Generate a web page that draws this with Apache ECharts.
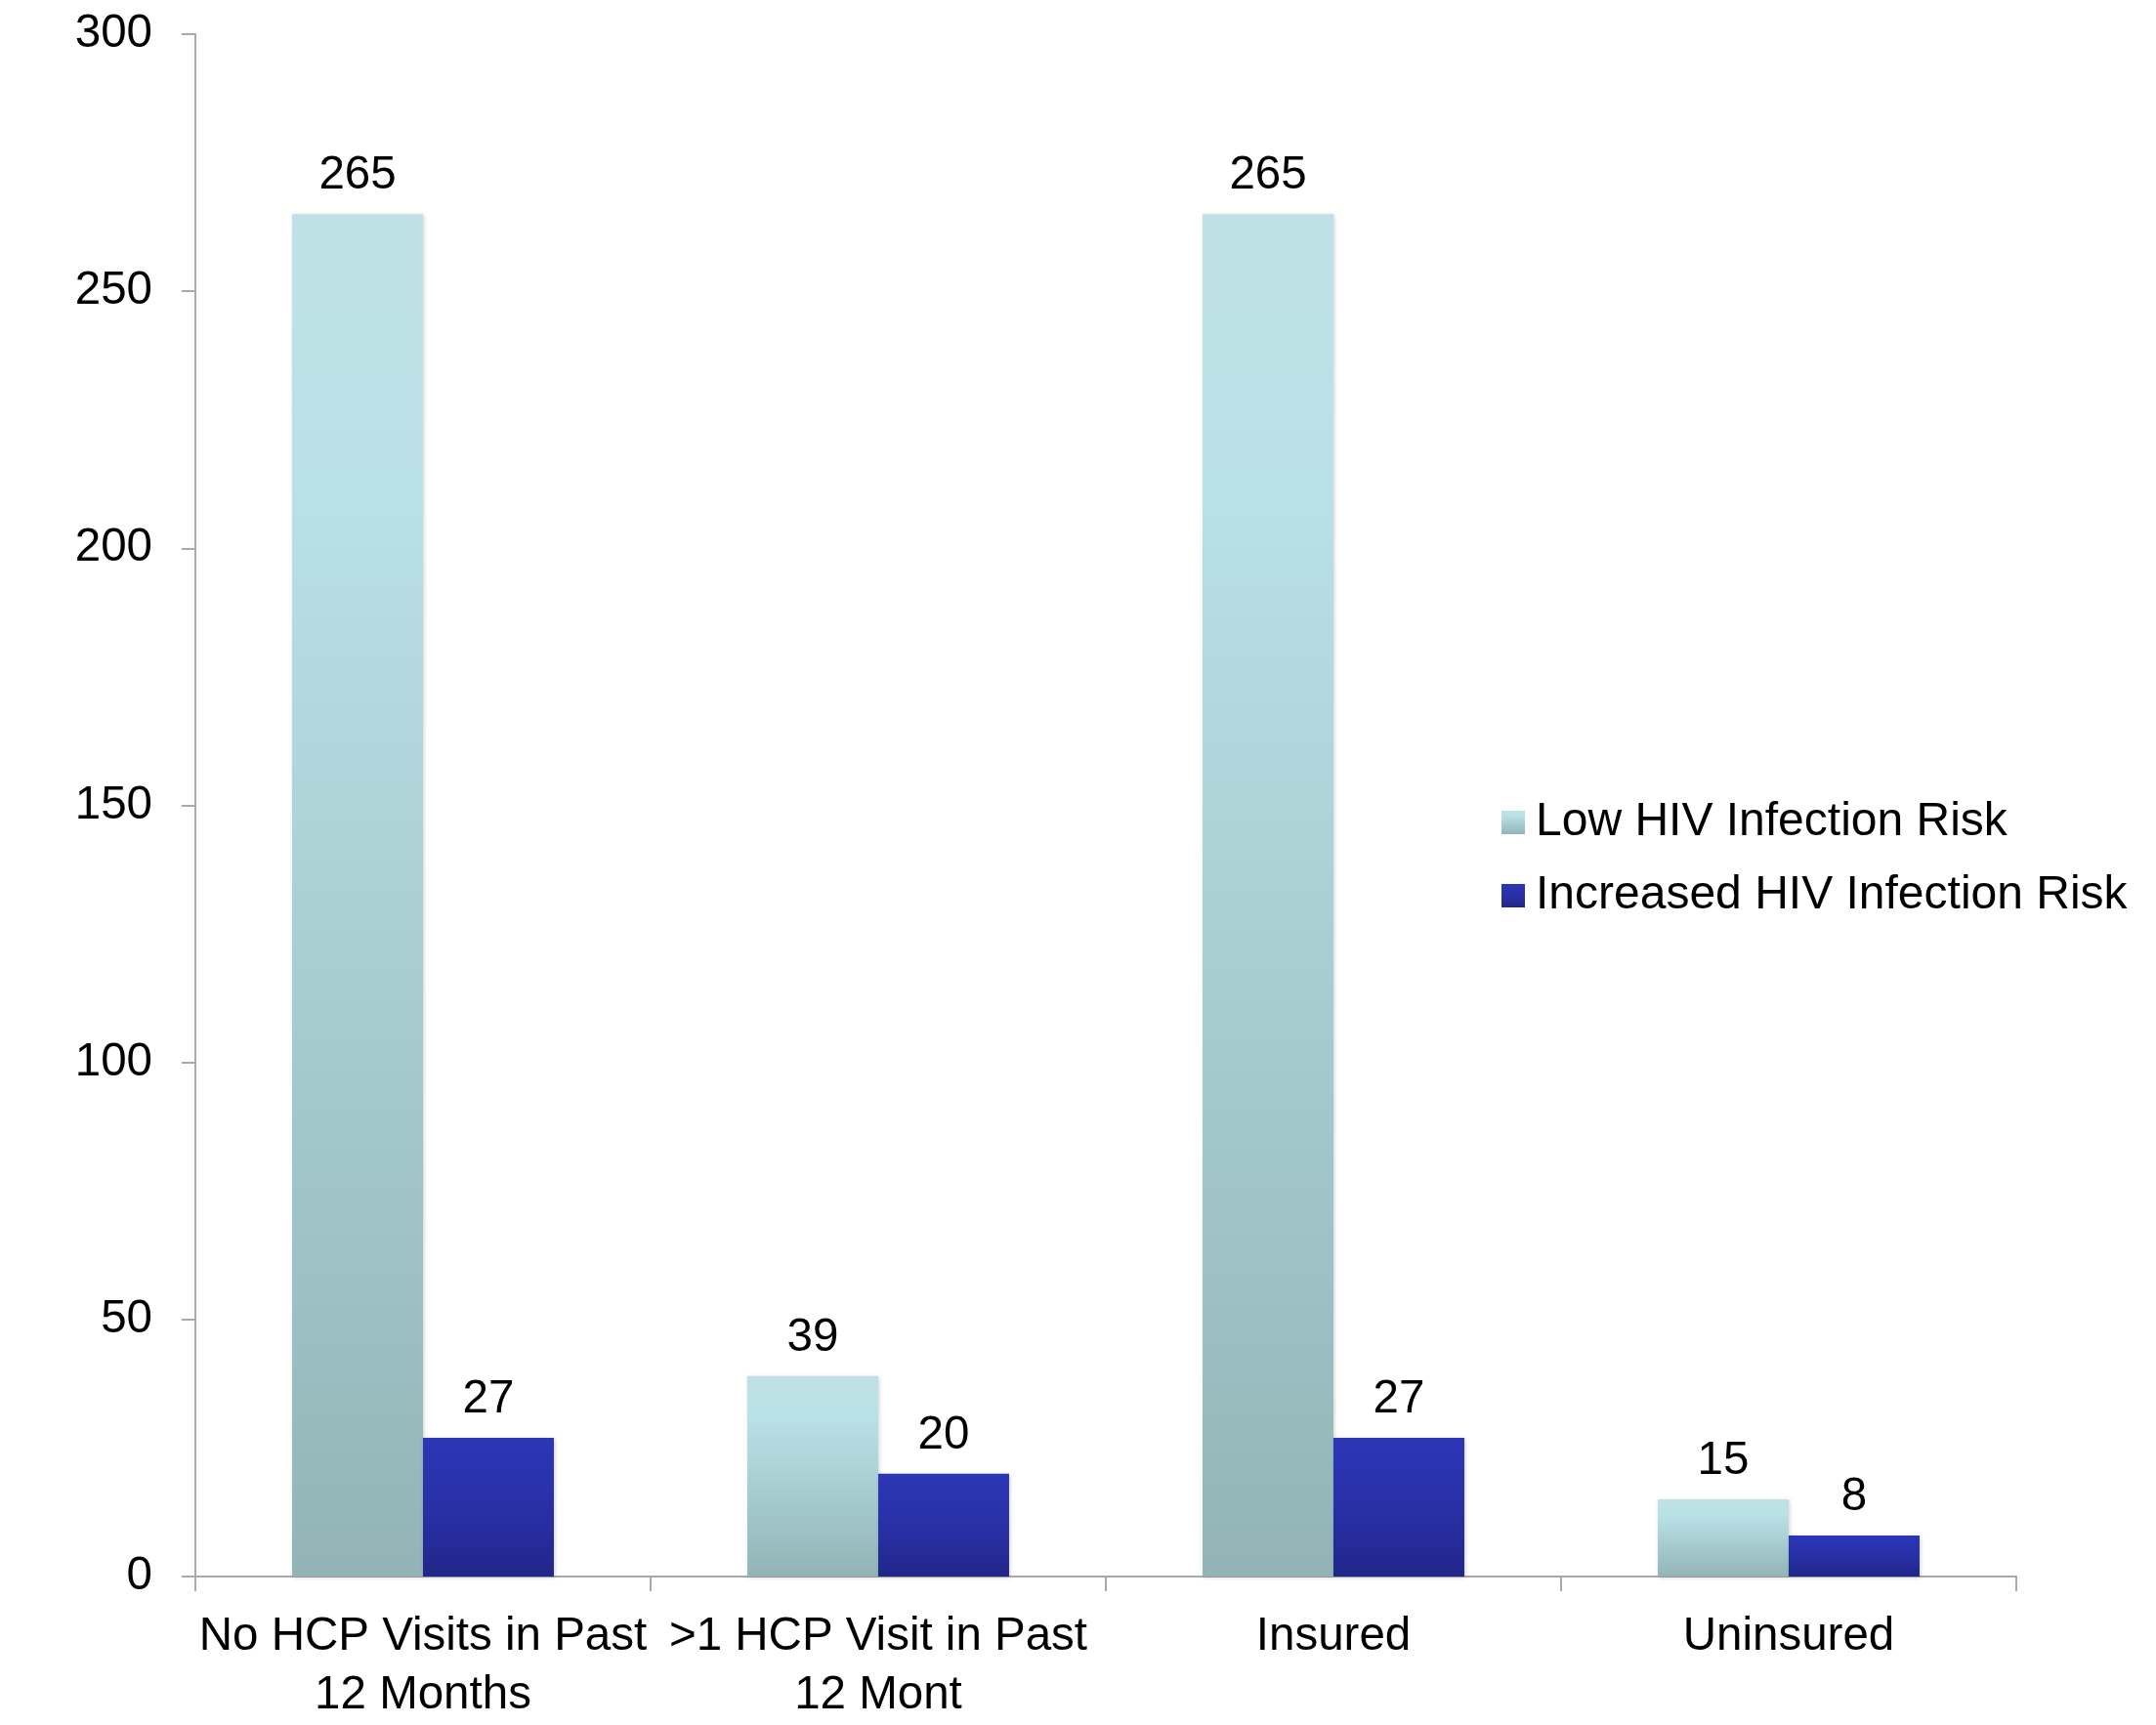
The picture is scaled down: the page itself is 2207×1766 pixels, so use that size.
<!DOCTYPE html>
<html>
<head>
<meta charset="utf-8">
<script src="https://cdn.jsdelivr.net/npm/echarts@6/dist/echarts.min.js"></script>
<style>
  html, body { margin: 0; padding: 0; background: #ffffff; }
  #chart { width: 2207px; height: 1766px; }
</style>
</head>
<body>
<div id="chart"></div>
<script>
// Groups along the x axis
const categories = [
  'No HCP Visits in Past\n12 Months',
  '>1 HCP Visit in Past\n12 Mont',
  'Insured',
  'Uninsured'
];
const seriesNames = ['Low HIV Infection Risk', 'Increased HIV Infection Risk'];
const lowRisk = [265, 39, 265, 15];
const increasedRisk = [27, 20, 27, 8];
const yTicks = { min: 0, max: 300, interval: 50 };

const FONT = '"Liberation Sans", Arial, Helvetica, sans-serif';
const AXIS_GREY = '#a9a9a9';

const lightFill = new echarts.graphic.LinearGradient(0, 0, 0, 1, [
  { offset: 0, color: '#bfe1e6' },
  { offset: 0.2, color: '#b9e2e6' },
  { offset: 1, color: '#92b4b7' }
]);
const darkFill = new echarts.graphic.LinearGradient(0, 0, 0, 1, [
  { offset: 0, color: '#2c36b7' },
  { offset: 0.5, color: '#2930a6' },
  { offset: 1, color: '#21268a' }
]);

const valueLabel = {
  show: true,
  position: 'top',
  distance: 15,
  color: '#000',
  fontFamily: FONT,
  fontSize: 47.5
};

const chart = echarts.init(document.getElementById('chart'), null, { renderer: 'canvas' });
chart.setOption({
  animation: false,
  backgroundColor: '#ffffff',
  grid: { left: 200, right: 143, top: 35, bottom: 138, containLabel: false },
  legend: {
    orient: 'vertical',
    left: 1537,
    top: 817,
    padding: 0,
    itemWidth: 24,
    itemHeight: 24,
    itemGap: 25,
    icon: 'rect',
    textStyle: { fontFamily: FONT, fontSize: 48, color: '#000', lineHeight: 50, padding: [0, 0, 0, 6] },
    data: seriesNames
  },
  xAxis: {
    type: 'category',
    data: categories,
    axisLine: { lineStyle: { color: AXIS_GREY, width: 2 } },
    axisTick: { show: true, length: 15, alignWithLabel: false, lineStyle: { color: AXIS_GREY, width: 2 } },
    axisLabel: {
      interval: 0,
      margin: 32,
      color: '#000',
      fontFamily: FONT,
      fontSize: 47.5,
      lineHeight: 60
    }
  },
  yAxis: {
    type: 'value',
    min: yTicks.min,
    max: yTicks.max,
    interval: yTicks.interval,
    axisLine: { show: true, lineStyle: { color: AXIS_GREY, width: 2 } },
    axisTick: { show: true, length: 14, lineStyle: { color: AXIS_GREY, width: 2 } },
    splitLine: { show: false },
    axisLabel: { margin: 44, color: '#000', fontFamily: FONT, fontSize: 47.5, padding: [9, 0, 0, 0] }
  },
  series: [
    {
      name: seriesNames[0],
      type: 'bar',
      data: lowRisk,
      barGap: '0%',
      barCategoryGap: '42.5%',
      itemStyle: { color: lightFill, shadowBlur: 4, shadowColor: 'rgba(0,0,0,0.18)', shadowOffsetX: 1, shadowOffsetY: 1 },
      label: valueLabel
    },
    {
      name: seriesNames[1],
      type: 'bar',
      data: increasedRisk,
      barGap: '0%',
      barCategoryGap: '42.5%',
      itemStyle: { color: darkFill, shadowBlur: 4, shadowColor: 'rgba(0,0,0,0.18)', shadowOffsetX: 1, shadowOffsetY: 1 },
      label: valueLabel
    }
  ]
});
</script>
</body>
</html>
